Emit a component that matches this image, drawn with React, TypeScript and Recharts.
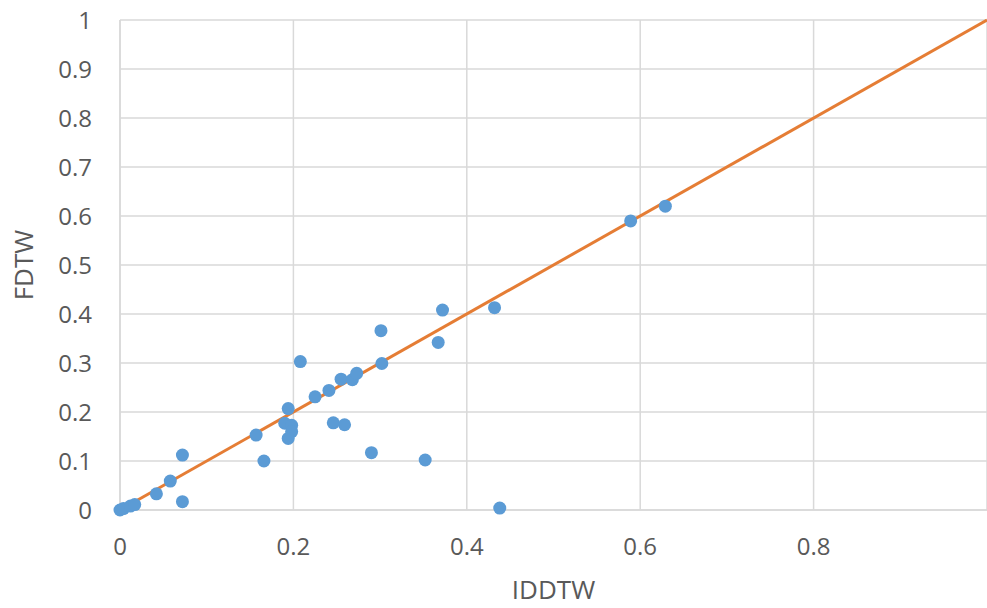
import React from 'react';
import {
  ScatterChart,
  Scatter,
  XAxis,
  YAxis,
  CartesianGrid,
  ReferenceLine,
  Label,
} from 'recharts';

// IDDTW vs FDTW, one point per pair
const iddtw = [
  0, 0.004, 0.012, 0.017, 0.042, 0.058, 0.072, 0.072, 0.157, 0.166, 0.194, 0.19, 0.198,
  0.198, 0.194, 0.208, 0.225, 0.241, 0.255, 0.268, 0.273, 0.246, 0.259, 0.29, 0.301,
  0.302, 0.352, 0.367, 0.372, 0.432, 0.438, 0.589, 0.629,
];
const fdtw = [
  0, 0.003, 0.008, 0.011, 0.033, 0.059, 0.112, 0.017, 0.153, 0.1, 0.207, 0.177, 0.173,
  0.16, 0.146, 0.303, 0.231, 0.244, 0.267, 0.266, 0.279, 0.178, 0.174, 0.117, 0.366,
  0.299, 0.102, 0.342, 0.408, 0.413, 0.004, 0.59, 0.62,
];
const xTicks = [0, 0.2, 0.4, 0.6, 0.8];
const yTicks = [0, 0.1, 0.2, 0.3, 0.4, 0.5, 0.6, 0.7, 0.8, 0.9, 1];
const diagonal = [
  { x: 0, y: 0 },
  { x: 1, y: 1 },
];

const points = iddtw.map((x, i) => ({ x, y: fdtw[i] }));

const FONT = '"Open Sans", "Noto Sans", sans-serif';
const TEXT = '#595959';
const GRID = '#d9d9d9';

const Dot = (props: any) => (
  <circle cx={props.cx} cy={props.cy} r={6.5} fill="#5b9bd5" />
);

export default function App() {
  return (
    <div style={{ position: 'absolute', left: 0, top: 0, width: 987, height: 608, background: '#fff' }}>
      <ScatterChart width={987} height={608} margin={{ top: 20, right: 0, bottom: 0, left: 0 }}>
        <CartesianGrid stroke={GRID} strokeWidth={1.5} />
        <XAxis
          type="number"
          dataKey="x"
          domain={[0, 1]}
          ticks={xTicks}
          height={98}
          axisLine={{ stroke: GRID, strokeWidth: 1.5 }}
          tickLine={false}
          tickSize={0}
          tickMargin={28}
          tick={{ fontSize: 24, fill: TEXT, fontFamily: FONT }}
        >
          <Label
            content={({ viewBox }: any) => (
              <text
                x={viewBox.x + viewBox.width / 2}
                y={viewBox.y + 89}
                textAnchor="middle"
                fontSize={26}
                fill={TEXT}
                fontFamily={FONT}
              >
                IDDTW
              </text>
            )}
          />
        </XAxis>
        <YAxis
          type="number"
          dataKey="y"
          domain={[0, 1]}
          ticks={yTicks}
          width={120}
          axisLine={{ stroke: GRID, strokeWidth: 1.5 }}
          tickLine={false}
          tickSize={0}
          tickMargin={28}
          tick={{ fontSize: 24, fill: TEXT, fontFamily: FONT }}
        >
          <Label
            content={({ viewBox }: any) => {
              const cx = viewBox.x + 33;
              const cy = viewBox.y + viewBox.height / 2;
              return (
                <text
                  x={cx}
                  y={cy}
                  textAnchor="middle"
                  transform={`rotate(-90, ${cx}, ${cy})`}
                  fontSize={26}
                  fill={TEXT}
                  fontFamily={FONT}
                >
                  FDTW
                </text>
              );
            }}
          />
        </YAxis>
        <ReferenceLine
          segment={diagonal}
          stroke="#e57d35"
          strokeWidth={3}
          ifOverflow="visible"
        />
        <Scatter data={points} shape={Dot} isAnimationActive={false} />
      </ScatterChart>
    </div>
  );
}
